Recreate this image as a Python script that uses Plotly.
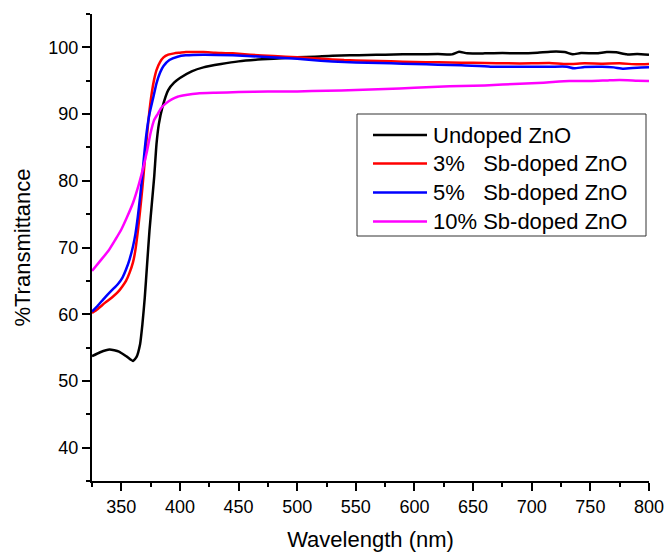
import plotly.graph_objects as go

# Optical transmittance spectra of ZnO thin films
wl_undoped = [325, 332, 340, 348, 355, 360, 363, 366, 368, 370, 372, 374, 376, 378,
              380, 382, 385, 390, 395, 400, 410, 420, 435, 450, 470, 490, 500, 515,
              530, 545, 560, 575, 590, 605, 620, 632, 638, 645, 660, 675, 690, 705,
              716, 728, 735, 742, 755, 764, 772, 781, 790, 800]
t_undoped = [53.7, 54.3, 54.7, 54.4, 53.6, 53.0, 53.6, 55.5, 58.5, 62.5, 67.5, 72.5,
             76.5, 80.5, 85.5, 88.5, 91.0, 93.6, 94.7, 95.4, 96.4, 97.0, 97.5, 97.9,
             98.2, 98.4, 98.5, 98.6, 98.75, 98.8, 98.85, 98.9, 98.95, 98.95, 99.0,
             98.95, 99.35, 99.1, 99.1, 99.15, 99.1, 99.2, 99.35, 99.3, 98.95, 99.15,
             99.1, 99.3, 99.25, 98.95, 99.0, 98.9]

wl_sb3 = [325, 330, 336, 342, 347, 351, 354, 357, 360, 362, 364, 366, 368, 370, 372,
          374, 376, 378, 380, 383, 386, 390, 395, 400, 405, 410, 420, 430, 445, 460,
          480, 500, 520, 540, 560, 580, 600, 620, 640, 660, 680, 700, 715, 730, 745,
          760, 775, 790, 800]
t_sb3 = [60.2, 60.8, 61.7, 62.5, 63.3, 64.2, 65.0, 66.2, 67.8, 69.6, 72.3, 75.5, 79.0,
         83.0, 87.0, 90.5, 93.2, 95.2, 96.6, 97.8, 98.5, 98.9, 99.1, 99.2, 99.3, 99.3,
         99.3, 99.2, 99.1, 98.9, 98.7, 98.5, 98.3, 98.1, 98.0, 97.9, 97.8, 97.75,
         97.7, 97.65, 97.6, 97.6, 97.65, 97.5, 97.6, 97.55, 97.6, 97.45, 97.5]

wl_sb5 = [325, 330, 336, 342, 347, 351, 354, 357, 360, 362, 364, 366, 368, 370, 372,
          374, 377, 380, 383, 386, 391, 398, 405, 420, 445, 470, 500, 520, 540, 560,
          580, 600, 620, 640, 665, 690, 716, 730, 736, 745, 760, 770, 778, 790, 800]
t_sb5 = [60.4, 61.3, 62.5, 63.6, 64.5, 65.5, 66.7, 68.2, 70.2, 72.0, 74.5, 77.6, 81.0,
         84.8, 87.8, 90.0, 92.3, 94.6, 96.2, 97.2, 98.1, 98.6, 98.8, 98.9, 98.8, 98.6,
         98.3, 98.0, 97.8, 97.7, 97.6, 97.5, 97.4, 97.3, 97.1, 97.1, 97.1, 97.1,
         96.85, 97.05, 97.1, 97.0, 96.8, 96.95, 97.0]

wl_sb10 = [325, 332, 339, 345, 350, 355, 360, 365, 369, 372, 375, 378, 381, 384, 388,
           393, 398, 405, 415, 430, 450, 475, 500, 525, 550, 575, 600, 620, 640, 660,
           690, 710, 732, 750, 765, 775, 790, 800]
t_sb10 = [66.5, 68.0, 69.5, 71.2, 72.7, 74.6, 76.7, 79.5, 82.2, 84.5, 87.2, 89.1, 90.0,
          90.9, 91.6, 92.2, 92.6, 92.85, 93.1, 93.2, 93.3, 93.4, 93.4, 93.5, 93.6,
          93.75, 93.95, 94.1, 94.2, 94.3, 94.55, 94.7, 94.95, 94.95, 95.05, 95.1,
          95.0, 94.95]

series_labels = ["Undoped ZnO",
                 "3%\u00a0\u00a0\u00a0Sb-doped ZnO",
                 "5%\u00a0\u00a0\u00a0Sb-doped ZnO",
                 "10% Sb-doped ZnO"]
series_colors = ["#000000", "#ff0000", "#0000ff", "#ff00ff"]

x_ticks = [350, 400, 450, 500, 550, 600, 650, 700, 750, 800]
y_ticks = [40, 50, 60, 70, 80, 90, 100]

FONT = "Liberation Sans, Arial, sans-serif"
W, H = 666, 552
ML, MR, MT, MB = 92, 17, 14, 71
PW, PH = W - ML - MR, H - MT - MB


def px_x(px):
    return (px - ML) / PW


def px_y(py):
    return (H - MB - py) / PH


fig = go.Figure()
for wl, t, lab, col in zip([wl_undoped, wl_sb3, wl_sb5, wl_sb10],
                           [t_undoped, t_sb3, t_sb5, t_sb10],
                           series_labels, series_colors):
    fig.add_trace(go.Scatter(x=wl, y=t, mode="lines", name=lab,
                             line=dict(color=col, width=2.5, shape="spline", smoothing=0.5),
                             showlegend=False))

# legend box drawn as shapes + text
box_l, box_r, box_t, box_b = 357, 646, 114, 236
fig.add_shape(type="rect", xref="paper", yref="paper",
              x0=px_x(box_l), x1=px_x(box_r), y0=px_y(box_b), y1=px_y(box_t),
              line=dict(color="#333333", width=1), fillcolor="white", layer="above")
row_y = [135, 163.5, 192.5, 221.5]
for ry, lab, col in zip(row_y, series_labels, series_colors):
    fig.add_shape(type="line", xref="paper", yref="paper",
                  x0=px_x(373), x1=px_x(427), y0=px_y(ry), y1=px_y(ry),
                  line=dict(color=col, width=2.5), layer="above")
    fig.add_annotation(xref="paper", yref="paper", x=px_x(431), y=px_y(ry),
                       xanchor="left", yanchor="middle", text=lab, showarrow=False,
                       font=dict(family=FONT, size=22, color="black"))

axis_common = dict(showline=True, linewidth=2, linecolor="black", mirror=False,
                   ticks="outside", ticklen=8, tickwidth=2, tickcolor="black",
                   showgrid=False, zeroline=False, automargin=False,
                   ticklabeloverflow="allow",
                   tickfont=dict(family=FONT, size=18, color="black"))

fig.update_xaxes(range=[325, 800], tickvals=x_ticks,
                 minor=dict(ticks="outside", ticklen=4, tickwidth=2, tickcolor="black",
                            dtick=25, tick0=325, showgrid=False),
                 title=dict(text="Wavelength (nm)", standoff=18,
                            font=dict(family=FONT, size=22, color="black")),
                 **axis_common)
fig.update_yaxes(range=[35, 105], tickvals=y_ticks,
                 minor=dict(ticks="outside", ticklen=4, tickwidth=2, tickcolor="black",
                            dtick=5, tick0=35, showgrid=False),
                 title=dict(text="%Transmittance", standoff=12,
                            font=dict(family=FONT, size=22, color="black")),
                 **axis_common)

fig.update_layout(width=W, height=H, margin=dict(l=ML, r=MR, t=MT, b=MB),
                  plot_bgcolor="white", paper_bgcolor="white",
                  font=dict(family=FONT, color="black"))

fig.write_html("out.html")
